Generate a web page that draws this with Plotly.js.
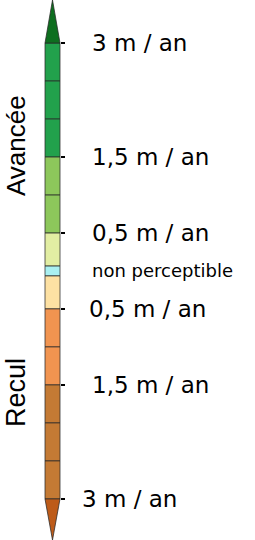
<!DOCTYPE html>
<html>
<head>
<meta charset="utf-8">
<script src="https://cdn.plot.ly/plotly-3.0.1.min.js"></script>
<style>html,body{margin:0;padding:0;background:#fff;}#chart{width:255px;height:540px;}</style>
</head>
<body>
<div id="chart"></div>
<script>
// ---- data ----
const classNames = ['Avancée > 3 m/an','Avancée 2,5–3','Avancée 2–2,5','Avancée 1,5–2','Avancée 1–1,5','Avancée 0,5–1','Avancée 0–0,5','non perceptible','Recul 0–0,5','Recul 0,5–1','Recul 1–1,5','Recul 1,5–2','Recul 2–2,5','Recul 2,5–3','Recul > 3 m/an'];
const classSpan = [0.566, 0.5, 0.5, 0.5, 0.5, 0.5, 0.434, 0.13, 0.434, 0.5, 0.5, 0.5, 0.5, 0.5, 0.54];
const classColors = ['#0e6e1f','#22a14c','#22a14c','#22a14c','#8dc75b','#8dc75b','#e2eea3','#a9f0f1','#fde1a3','#f19450','#f19450','#c47a34','#c47a34','#c47a34','#bd5b19'];
const tickClassIdx = [1, 4, 6, 9, 11, 14];           // boundaries that get a tick
const tickLabels = ['3 m / an','1,5 m / an','0,5 m / an','0,5 m / an','1,5 m / an','3 m / an'];
const npLabel = 'non perceptible';
const groupTitles = ['Avancée','Recul'];

// ---- derived ----
const base = [];
let acc = 0;
classSpan.forEach(s => { base.push(acc); acc += s; });
const total = acc;

const nLast = classSpan.length - 1;
const rectIdx = classSpan.map((_, i) => i).filter(i => i > 0 && i < nLast);

const traces = [];
traces.push({
  type: 'bar',
  x: rectIdx.map(() => 0),
  y: rectIdx.map(i => classSpan[i]),
  base: rectIdx.map(i => base[i]),
  width: 1,
  marker: { color: rectIdx.map(i => classColors[i]), line: { color: 'rgba(40,40,40,0.75)', width: 1 } },
  hoverinfo: 'skip'
});
// arrows (top and bottom classes), from the class extents
const top0 = base[0], top1 = base[0] + classSpan[0];
traces.push({
  type: 'scatter', mode: 'lines', fill: 'toself',
  x: [-0.5, 0, 0.5, -0.5], y: [top1, top0, top1, top1],
  fillcolor: classColors[0], line: { color: 'rgba(40,40,40,0.75)', width: 1 }, hoverinfo: 'skip'
});
const bot0 = base[nLast], bot1 = base[nLast] + classSpan[nLast];
traces.push({
  type: 'scatter', mode: 'lines', fill: 'toself',
  x: [-0.5, 0, 0.5, -0.5], y: [bot0, bot1, bot0, bot0],
  fillcolor: classColors[nLast], line: { color: 'rgba(40,40,40,0.75)', width: 1 }, hoverinfo: 'skip'
});

const tickVals = tickClassIdx.map(i => base[i]);
const labelX = [2.5, 2.5, 2.5, 2.3, 2.5, 1.83];
const labelFont = { family: 'DejaVu Sans', size: 23, color: '#000' };
const annotations = tickLabels.map((t, k) => ({
  x: labelX[k], y: tickVals[k], xref: 'x', yref: 'y', text: t, showarrow: false,
  xanchor: 'left', yanchor: 'middle', font: labelFont
}));
const npIdx = classNames.indexOf('non perceptible');
annotations.push({
  x: 2.5, y: base[npIdx] + classSpan[npIdx] / 2, xref: 'x', yref: 'y', text: npLabel,
  showarrow: false, xanchor: 'left', yanchor: 'middle',
  font: { family: 'DejaVu Sans', size: 18, color: '#000' }
});
annotations.push({
  x: 16 / 255, y: 1 - 146 / 540, xref: 'paper', yref: 'paper', text: groupTitles[0], textangle: -90,
  showarrow: false, xanchor: 'center', yanchor: 'middle',
  font: { family: 'Liberation Sans', size: 26, color: '#000' }
});
annotations.push({
  x: 16 / 255, y: 1 - 393 / 540, xref: 'paper', yref: 'paper', text: groupTitles[1], textangle: -90,
  showarrow: false, xanchor: 'center', yanchor: 'middle',
  font: { family: 'Liberation Sans', size: 27, color: '#000' }
});

const layout = {
  width: 255, height: 540,
  margin: { l: 0, r: 0, t: 0, b: 0, pad: 0 },
  paper_bgcolor: '#fff', plot_bgcolor: '#fff',
  showlegend: false,
  xaxis: { range: [-3.5, 13.5], visible: false, fixedrange: true },
  yaxis: {
    range: [total, 0], showgrid: false, zeroline: false, showline: false,
    anchor: 'free', position: 60 / 255, side: 'right',
    tickmode: 'array', tickvals: tickVals, showticklabels: false,
    ticks: 'outside', ticklen: 4, tickwidth: 2, tickcolor: '#000'
  },
  annotations: annotations
};

Plotly.newPlot('chart', traces, layout, { staticPlot: true, displayModeBar: false });
</script>
</body>
</html>
